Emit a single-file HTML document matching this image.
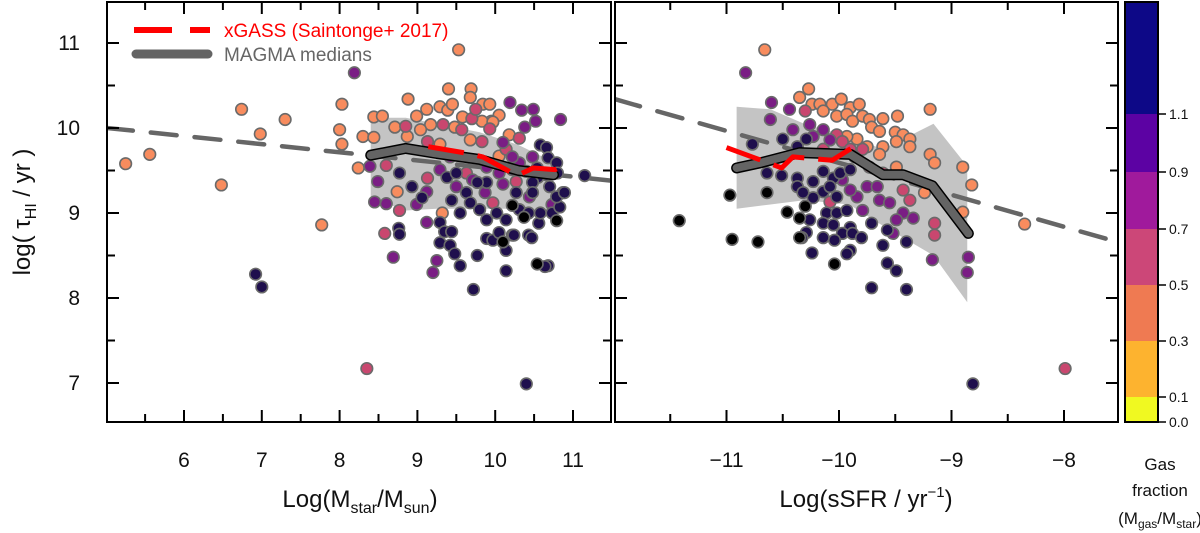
<!DOCTYPE html>
<html><head><meta charset="utf-8"><style>
html,body{margin:0;padding:0;background:#fff;}
svg{display:block;font-family:"Liberation Sans",sans-serif;}
</style></head><body>
<svg id="chart" width="1200" height="533" viewBox="0 0 1200 533"></svg>
<script>
// ---------- Left panel data: log stellar mass, log tau_HI, gas fraction (-1 = no fraction) ----------
const massX = [5.25,5.56,6.48,6.74,6.98,7.30,7.77,8.00,8.03,9.53,9.40,9.69,9.68,8.88,8.44,8.55,8.99,9.12,9.29,9.39,9.45,9.84,9.93,10.05,9.95,9.83,9.58,8.87,8.30,8.44,8.03,8.24,8.74,9.32,10.05,9.97,9.17,9.48,9.04,9.68,9.29,8.71,10.18,
6.92,7.00,8.19,8.35,
8.85,9.33,9.57,9.70,9.75,9.93,10.31,8.60,8.77,9.97,10.27,9.13,10.22,8.58,9.13,9.83,10.14,9.63,
10.19,10.34,10.49,10.38,10.52,10.84,8.39,8.49,8.45,8.60,8.99,9.12,9.25,9.20,8.69,9.87,10.10,10.44,10.73,10.87,10.31,9.89,9.42,9.71,9.50,9.12,10.10,10.22,10.48,10.05,9.29,
8.77,8.93,9.06,8.76,8.77,9.29,9.35,9.44,9.29,9.42,9.48,9.55,9.77,9.72,9.89,9.97,10.14,10.14,10.05,10.24,10.43,10.47,10.56,10.68,10.73,10.83,10.79,10.89,10.70,10.66,10.55,10.54,10.58,10.66,10.68,10.79,10.80,11.15,9.63,9.68,9.80,9.89,10.02,10.14,10.31,10.43,10.58,9.44,9.55,9.38,9.50,10.27,10.48,10.40,10.22,9.89,9.77,10.48,10.40,10.64,
10.22,10.10,10.54,10.79,10.37];
const tauL = [9.58,9.69,9.33,10.22,9.93,10.10,8.86,9.98,10.28,10.92,10.46,10.46,10.36,10.34,10.13,10.14,10.14,10.22,10.25,10.21,10.28,10.28,10.28,10.15,10.08,10.08,10.13,9.90,9.90,9.89,9.81,9.53,9.25,9.00,9.67,10.07,10.04,10.01,9.98,9.86,9.81,10.01,9.92,
8.28,8.13,10.65,7.17,
10.02,10.04,9.98,10.11,10.22,9.99,9.88,9.56,9.03,9.12,9.37,9.41,8.74,8.76,9.84,9.84,9.75,9.47,
10.30,10.21,10.22,10.01,10.08,10.10,9.55,9.37,9.13,9.11,9.10,8.89,8.44,8.30,8.48,9.24,9.34,9.19,9.10,9.24,9.59,9.54,9.66,9.39,9.31,9.25,9.83,9.66,9.66,9.47,9.51,
9.47,9.31,9.18,8.82,8.75,8.89,8.78,8.78,8.65,8.62,8.52,8.38,8.50,8.10,8.70,8.68,8.56,8.32,8.77,8.74,8.74,8.71,8.88,8.38,9.00,9.07,9.19,9.24,9.31,9.45,9.42,9.53,9.80,9.77,9.65,9.59,9.47,9.44,9.24,9.12,9.04,8.92,9.00,8.92,9.04,9.00,9.00,9.15,9.00,9.42,9.47,9.24,9.36,9.49,9.51,9.36,9.36,9.24,6.99,8.37,
9.09,8.66,8.40,8.91,8.95];
const fracL = [0.4,0.4,0.4,0.4,0.4,0.4,0.4,0.4,0.4,0.4,0.4,0.4,0.4,0.4,0.4,0.4,0.4,0.4,0.4,0.4,0.4,0.4,0.4,0.4,0.4,0.4,0.4,0.4,0.4,0.4,0.4,0.4,0.4,0.4,0.4,0.4,0.4,0.4,0.4,0.4,0.4,0.4,0.4,
1.2,1.2,0.8,0.6,
0.6,0.6,0.6,0.6,0.6,0.6,0.6,0.6,0.6,0.6,0.6,0.6,0.6,0.6,0.6,0.6,0.6,0.6,
0.8,0.8,0.8,0.8,0.8,0.8,0.8,0.8,0.8,0.8,0.8,0.8,0.8,0.8,0.8,0.8,0.8,0.8,0.8,0.8,0.8,0.8,0.8,0.8,0.8,0.8,0.8,0.8,0.8,0.8,0.8,
1.2,1.2,1.2,1.2,1.2,1.2,1.2,1.2,1.2,1.2,1.2,1.2,1.2,1.2,1.2,1.2,1.2,1.2,1.2,1.2,1.2,1.2,1.2,1.2,1.2,1.2,1.2,1.2,1.2,1.2,1.2,1.2,1.2,1.2,1.2,1.2,1.2,1.2,1.2,1.2,1.2,1.2,1.2,1.2,1.2,1.2,1.2,1.2,1.2,1.2,1.2,1.2,1.2,1.2,1.2,1.2,1.2,1.2,1.2,1.2,
-1,-1,-1,-1,-1];
const medMassX = [8.4,8.85,9.25,9.8,10.3,10.75];
const medMassY = [9.68,9.76,9.70,9.63,9.50,9.45];
const bandMassUp = [10.12,10.12,10.05,9.95,9.8,9.6];
const bandMassLo = [9.18,9.03,9.05,9.05,9.05,9.03];
const xgMassX = [9.14,9.59,9.84,10.06,10.28,10.49,10.77,10.94];
const xgMassY = [9.78,9.71,9.66,9.55,9.44,9.53,9.51,9.58];
const fitMass = [10.48,-0.0957]; // intercept, slope

// ---------- Right panel data: log sSFR ----------
const ssfrX = [-10.66,-10.27,-10.35,-10.24,-10.17,-10.06,-9.98,-9.90,-9.82,-10.14,-10.02,-9.93,-9.88,-9.79,-9.73,-9.61,-9.48,-9.19,-9.71,-9.64,-9.50,-9.43,-9.37,-9.49,-9.61,-9.37,-9.64,-9.49,-9.19,-9.15,-8.90,-8.82,-8.90,-9.24,-9.84,-9.75,-9.93,-8.35,
-10.30,-10.02,-9.97,-9.90,-9.79,-10.08,-9.43,-9.37,-9.15,-9.15,-9.86,-9.73,-9.61,-10.14,-7.99,
-10.83,-10.60,-10.44,-10.61,-10.41,-10.26,-10.23,-10.14,-10.08,-9.43,-9.34,-9.49,-9.52,-9.17,-8.85,-8.86,-9.64,-9.55,-9.75,-9.84,-9.79,-9.66,-9.90,-9.97,
-10.77,-10.64,-10.51,-10.50,-10.37,-10.29,-10.37,-10.23,-10.14,-10.05,-9.99,-9.90,-10.14,-10.23,-10.08,-10.02,-10.11,-10.02,-9.93,-10.14,-10.05,-9.90,-9.97,-9.88,-9.80,-9.71,-10.26,-10.29,-10.33,-10.14,-10.04,-9.90,-9.93,-9.61,-9.57,-9.40,-10.24,-9.57,-9.49,-9.71,-9.40,-10.37,-10.32,-8.81,
-10.97,-11.42,-10.72,-10.64,-10.46,-10.30,-10.35,-10.35,-10.04,-10.95];
const tauR = [10.92,10.46,10.36,10.28,10.28,10.28,10.34,10.24,10.28,10.20,10.14,10.16,10.08,10.14,10.10,10.11,10.14,10.22,10.01,9.96,9.95,9.92,9.87,9.84,9.78,9.78,9.69,9.54,9.69,9.59,9.54,9.33,9.01,9.24,9.87,9.78,9.90,8.87,
10.20,9.92,9.84,9.75,9.75,9.13,9.27,9.15,8.74,8.88,9.66,9.54,9.47,9.75,7.17,
10.65,10.30,10.22,10.10,9.98,10.04,9.90,9.98,9.86,9.00,8.94,8.92,8.76,8.45,8.48,8.30,9.15,9.12,9.31,9.19,9.03,9.31,9.27,9.39,
9.81,9.47,9.44,9.87,9.78,9.87,9.41,9.37,9.49,9.41,9.47,9.51,9.25,9.18,9.31,9.19,9.00,9.00,9.03,8.88,8.86,8.83,8.76,8.76,8.71,8.88,8.92,8.77,8.71,8.71,8.68,8.56,8.52,8.62,8.80,8.66,8.53,8.41,8.32,8.12,8.10,9.31,9.24,6.99,
9.21,8.91,8.66,9.24,9.01,9.08,8.94,8.71,8.40,8.69];
const fracR = [0.4,0.4,0.4,0.4,0.4,0.4,0.4,0.4,0.4,0.4,0.4,0.4,0.4,0.4,0.4,0.4,0.4,0.4,0.4,0.4,0.4,0.4,0.4,0.4,0.4,0.4,0.4,0.4,0.4,0.4,0.4,0.4,0.4,0.4,0.4,0.4,0.4,0.4,
0.6,0.6,0.6,0.6,0.6,0.6,0.6,0.6,0.6,0.6,0.6,0.6,0.6,0.6,0.6,
0.8,0.8,0.8,0.8,0.8,0.8,0.8,0.8,0.8,0.8,0.8,0.8,0.8,0.8,0.8,0.8,0.8,0.8,0.8,0.8,0.8,0.8,0.8,0.8,
1.2,1.2,1.2,1.2,1.2,1.2,1.2,1.2,1.2,1.2,1.2,1.2,1.2,1.2,1.2,1.2,1.2,1.2,1.2,1.2,1.2,1.2,1.2,1.2,1.2,1.2,1.2,1.2,1.2,1.2,1.2,1.2,1.2,1.2,1.2,1.2,1.2,1.2,1.2,1.2,1.2,1.2,1.2,1.2,
-1,-1,-1,-1,-1,-1,-1,-1,-1,-1];
const medSsfrX = [-10.91,-10.70,-10.35,-9.90,-9.61,-9.43,-9.17,-8.85];
const medSsfrY = [9.53,9.59,9.71,9.69,9.45,9.45,9.32,8.76];
const bandSsfrX = [-10.91,-10.61,-10.31,-9.91,-9.61,-9.16,-8.86];
const bandSsfrUp = [10.25,10.22,10.05,9.9,9.75,10.05,9.55];
const bandSsfrLo = [9.05,9.1,9.15,9.1,8.85,8.5,7.95];
const xgSsfrX = [-11.0,-10.69,-10.51,-10.41,-10.24,-10.06,-9.88,-9.79];
const xgSsfrY = [9.77,9.62,9.53,9.66,9.64,9.62,9.77,9.72];
const fitSsfr = [5.83,-0.376]; // intercept, slope

// colour bar
const cbBounds = [0,0.1,0.3,0.5,0.7,0.9,1.1,1.5];
const cbColors = ["#f0f921","#fdb32f","#ef7a52","#cc4778","#a01a9c","#5c02a3","#0d0887"];
const cbTicks = ["0.0","0.1","0.3","0.5","0.7","0.9","1.1"];
const massTicks = [6,7,8,9,10,11];
const ssfrTicks = [-11,-10,-9,-8];
const tauTicks = [7,8,9,10,11];

const NS="http://www.w3.org/2000/svg";
const svg=document.getElementById('chart');
function mk(tag,attrs,parent){const e=document.createElementNS(NS,tag);for(const k in attrs)e.setAttribute(k,attrs[k]);(parent||svg).appendChild(e);return e;}

const T=2,B=422;
const yS=v=>43+(11-v)*85;
const L={x0:107,x1:611,c:184,k:77.8,o:6};
const R={x0:615,x1:1118,c:839,k:112.5,o:-10};
L.sx=v=>L.c+(v-L.o)*L.k; R.sx=v=>R.c+(v-R.o)*R.k;
function pcol(f){if(f<0)return"#000";if(f<0.5)return"#f88c5e";if(f<0.7)return"#c9476f";if(f<0.9)return"#7a1d84";if(f<1.1)return"#4b0c7c";return"#1f0f4d";}

function panel(P,name,X,Y,F,bx,bu,bl,mx,my,gx,gy,fit,ticks,minStep){
  const g=mk('g',{});
  
  
  const clip=mk('clipPath',{id:'c'+name},g);
  mk('rect',{x:P.x0,y:T,width:P.x1-P.x0,height:B-T},clip);
  const inner=mk('g',{'clip-path':'url(#c'+name+')'},g);
  let pts=bx.map((x,i)=>P.sx(x)+','+yS(bu[i]));
  for(let i=bx.length-1;i>=0;i--)pts.push(P.sx(bx[i])+','+yS(bl[i]));
  const band=mk('polygon',{points:pts.join(' '),fill:'#c4c4c4'},inner);
  
  
  const v0=(P.x0-P.c)/P.k+P.o, v1=(P.x1-P.c)/P.k+P.o;
  const fl=mk('line',{x1:P.sx(v0),y1:yS(fit[0]+fit[1]*v0),x2:P.sx(v1),y2:yS(fit[0]+fit[1]*v1),stroke:'#666','stroke-width':4.5,'stroke-dasharray':'26 18','stroke-linecap':'round'},inner);
  
  
  for(let i=0;i<X.length;i++){
    const c=mk('circle',{cx:P.sx(X[i]),cy:yS(Y[i]),r:5.8,fill:pcol(F[i]),stroke:'#6a6a6a','stroke-width':1.6},inner);
    
    
  }
  const mp=mx.map((x,i)=>P.sx(x)+','+yS(my[i])).join(' ');
  mk('polyline',{points:mp,fill:'none',stroke:'#000','stroke-width':11,'stroke-linejoin':'round','stroke-linecap':'round'},inner);
  const ml=mk('polyline',{points:mp,fill:'none',stroke:'#646464','stroke-width':8,'stroke-linejoin':'round','stroke-linecap':'round'},inner);
  
  
  const gp=gx.map((x,i)=>P.sx(x)+','+yS(gy[i])).join(' ');
  const gl=mk('polyline',{points:gp,fill:'none',stroke:'#ff0000','stroke-width':5,'stroke-dasharray':'36 14','stroke-linejoin':'round'},inner);
  
  
  mk('rect',{x:P.x0,y:T,width:P.x1-P.x0,height:B-T,fill:'none',stroke:'#000','stroke-width':2},g);
  const lo=Math.ceil(v0/minStep)*minStep;
  for(let v=lo;v<=v1+1e-6;v+=minStep){
    const maj=Math.abs(v-Math.round(v))<1e-6, x=P.sx(v), len=maj?12:8;
    if(x<P.x0+2||x>P.x1-2)continue;
    mk('line',{x1:x,y1:B,x2:x,y2:B-len,stroke:'#000','stroke-width':2},g);
    mk('line',{x1:x,y1:T,x2:x,y2:T+len,stroke:'#000','stroke-width':2},g);
  }
  for(let v=7;v<=11.01;v+=0.5){
    const y=yS(v),len=Number.isInteger(v)?12:8;
    mk('line',{x1:P.x0,y1:y,x2:P.x0+len,y2:y,stroke:'#000','stroke-width':2},g);
    mk('line',{x1:P.x1,y1:y,x2:P.x1-len,y2:y,stroke:'#000','stroke-width':2},g);
  }
  ticks.forEach(v=>{
    const t=mk('text',{x:P.sx(v),y:467,'text-anchor':'middle','font-size':21,fill:'#111'},g);
    t.textContent=(v<0?'\u2212'+(-v):String(v));
    
    
  });
}
panel(L,'mass',massX,tauL,fracL,medMassX,bandMassUp,bandMassLo,medMassX,medMassY,xgMassX,xgMassY,fitMass,massTicks,0.5);
panel(R,'ssfr',ssfrX,tauR,fracR,bandSsfrX,bandSsfrUp,bandSsfrLo,medSsfrX,medSsfrY,xgSsfrX,xgSsfrY,fitSsfr,ssfrTicks,0.5);

tauTicks.forEach(v=>{
  const t=mk('text',{x:80,y:yS(v)+7,'text-anchor':'end','font-size':21,fill:'#111'});
  t.textContent=String(v);
  
  
});

const cbY=[422,397,341,285,229,172,114,2];
cbColors.forEach((c,i)=>{
  const r=mk('rect',{x:1125,y:cbY[i+1],width:33,height:cbY[i]-cbY[i+1],fill:c});
  
  
});
mk('rect',{x:1125,y:2,width:33,height:420,fill:'none',stroke:'#000','stroke-width':2});
cbTicks.forEach((s,i)=>{
  mk('line',{x1:1158,y1:cbY[i],x2:1166,y2:cbY[i],stroke:'#000','stroke-width':1.5});
  const t=mk('text',{x:1169,y:cbY[i]+5,'font-size':14,fill:'#111'});
  t.textContent=s;
  
  
});
</script>
<svg width="1200" height="533" style="position:absolute;left:0;top:0;font-family:'Liberation Sans',sans-serif">
  <g>
    <line x1="134" y1="30" x2="210" y2="30" stroke="#ff0000" stroke-width="6" stroke-dasharray="38 18"/>
    <text x="224" y="37" font-size="19" fill="#ff0000">xGASS (Saintonge+ 2017)</text>
    <line x1="136" y1="54" x2="208" y2="54" stroke="#646464" stroke-width="9" stroke-linecap="round"/>
    <text x="224" y="61" font-size="19" fill="#666">MAGMA medians</text>
  </g>
  <text x="360" y="507" text-anchor="middle" font-size="24" fill="#111">Log(M<tspan font-size="16" dy="6">star</tspan><tspan dy="-6">/M</tspan><tspan font-size="16" dy="6">sun</tspan><tspan dy="-6">)</tspan></text>
  <text x="866" y="507" text-anchor="middle" font-size="24" fill="#111">Log(sSFR / yr<tspan font-size="15" dy="-10">−1</tspan><tspan dy="10">)</tspan></text>
  <text transform="translate(30,212) rotate(-90)" text-anchor="middle" font-size="24" fill="#111">log( τ<tspan font-size="16" dy="6">HI</tspan><tspan dy="-6"> / yr )</tspan></text>
  <g font-size="17" fill="#111" text-anchor="middle">
    <text x="1160" y="470">Gas</text>
    <text x="1160" y="496">fraction</text>
    <text x="1160" y="524">(M<tspan font-size="12" dy="4">gas</tspan><tspan dy="-4">/M</tspan><tspan font-size="12" dy="4">star</tspan><tspan dy="-4">)</tspan></text>
  </g>
</svg>
</body></html>
